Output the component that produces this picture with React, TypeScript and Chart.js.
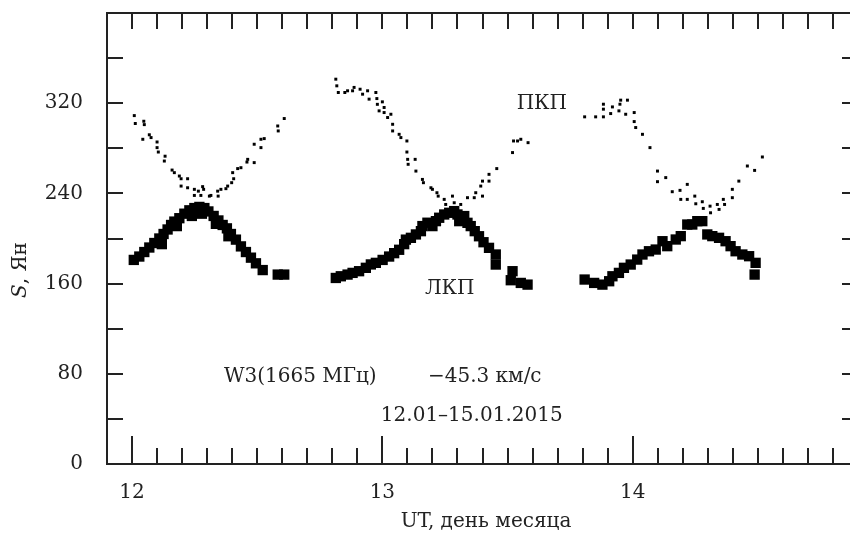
import React, { useEffect, useRef } from 'react';
import { Chart, registerables } from 'chart.js';

Chart.register(...registerables);

// ЛКП (left circular polarisation) – day of month (UT) and flux, Jy
const lcpDay = [
  12.007, 12.029, 12.049, 12.069, 12.089, 12.109, 12.119, 12.126, 12.142, 12.156, 12.169, 12.179, 12.189,
  12.209, 12.229, 12.239, 12.249, 12.269, 12.279, 12.289, 12.305, 12.326, 12.335, 12.345, 12.362, 12.379,
  12.385, 12.395, 12.415, 12.435, 12.455, 12.475, 12.495, 12.522, 12.582, 12.608,
  12.814, 12.834, 12.861, 12.881, 12.907, 12.934, 12.954, 12.974, 13.001, 13.027, 13.047, 13.067, 13.087,
  13.094, 13.114, 13.134, 13.154, 13.16, 13.18, 13.2, 13.214, 13.227, 13.247, 13.267, 13.287, 13.3, 13.307,
  13.327, 13.34, 13.353, 13.369, 13.386, 13.404, 13.426, 13.453, 13.453, 13.52, 13.513, 13.553, 13.58,
  13.808, 13.846, 13.879, 13.906, 13.919, 13.945, 13.965, 13.992, 14.018, 14.039, 14.065, 14.092, 14.119,
  14.138, 14.172, 14.192, 14.218, 14.238, 14.258, 14.278, 14.298, 14.318, 14.345, 14.371, 14.391, 14.411,
  14.438, 14.465, 14.491, 14.487,
];
const lcpFlux = [
  181, 184, 188, 192, 196, 200, 195, 204, 208, 212, 215, 211, 218,
  222, 225, 220, 227, 228, 222, 227, 224, 220, 213, 216, 212, 209,
  202, 204, 199, 193, 188, 183, 178, 172, 168, 168,
  165, 166.5, 168, 169.5, 171, 174, 177, 178.4, 181, 184, 187, 190, 195,
  199, 200.6, 203.6, 206.5, 211, 214, 211, 215.4, 218.4, 221.3, 222.8, 224.3, 221.3, 215.4,
  219.9, 213.9, 211, 206.5, 202, 196.7, 191.7, 185.8, 176.9, 171, 163, 160.6, 159.1,
  163.6, 160.6, 159.1, 162.1, 166.5, 169.5, 174, 176.9, 181.3, 185.8, 188.7, 190.2, 197.6,
  193.2, 199.1, 202.1, 212.4, 212.4, 215.4, 215.4, 203.6, 202.1, 200.6, 197.6, 193.2, 188.7,
  185.8, 184.3, 178.4, 168,
];

// ПКП (right circular polarisation) – day of month (UT) and flux, Jy
const rcpDay = [
  12.009, 12.013, 12.047, 12.049, 12.069, 12.076, 12.043, 12.1, 12.1, 12.105, 12.132, 12.129, 12.16, 12.169,
  12.189, 12.196, 12.196, 12.222, 12.222, 12.249, 12.249, 12.265, 12.275, 12.282, 12.286, 12.309, 12.315,
  12.342, 12.344, 12.355, 12.375, 12.382, 12.398, 12.406, 12.402, 12.422, 12.435, 12.462, 12.459, 12.488,
  12.488, 12.515, 12.515, 12.528, 12.582, 12.584, 12.608,
  12.814, 12.818, 12.824, 12.85, 12.861, 12.881, 12.887, 12.911, 12.921, 12.941, 12.947, 12.974, 12.978,
  12.98, 12.987, 13.0, 13.007, 13.007, 13.021, 13.034, 13.041, 13.041, 13.067, 13.074, 13.098, 13.098,
  13.101, 13.103, 13.131, 13.134, 13.16, 13.164, 13.194, 13.2, 13.218, 13.223, 13.247, 13.253, 13.28,
  13.287, 13.313, 13.34, 13.367, 13.373, 13.393, 13.4, 13.4, 13.426, 13.426, 13.457, 13.52, 13.524, 13.54,
  13.553, 13.582,
  13.808, 13.852, 13.883, 13.883, 13.883, 13.912, 13.919, 13.945, 13.949, 13.952, 13.972, 13.979, 14.006,
  14.006, 14.012, 14.039, 14.069, 14.099, 14.099, 14.132, 14.158, 14.189, 14.192, 14.218, 14.218, 14.248,
  14.252, 14.278, 14.282, 14.309, 14.311, 14.338, 14.345, 14.362, 14.367, 14.398, 14.398, 14.424, 14.458,
  14.487, 14.518,
];
const rcpFlux = [
  309, 302, 304, 301, 292, 289.5, 288, 285.6, 280.6, 276.7, 273, 268.7, 260.7, 258.4,
  255.4, 253, 246.5, 253, 245, 243.6, 238.2, 242, 238.2, 246, 243.6, 237.6, 238.2,
  242, 237.6, 243.6, 244.2, 246.5, 249.5, 253, 258.4, 262, 262.8, 270.2, 267.8, 267.3,
  283.6, 288, 280.6, 288.6, 299.8, 295.4, 306.4,
  341.3, 335.4, 329.5, 329.5, 331, 331, 334, 332.4, 328, 331, 323.6, 329.5, 324.1,
  319, 313.2, 321.2, 316.2, 311.7, 307.3, 310.2, 301.3, 295.4, 292.4, 289.5, 286.5, 276.7,
  270.2, 265.8, 270.2, 259.8, 252.4, 249.5, 245, 243.6, 240.6, 237.6, 234.7, 230.2, 237.6,
  231.7, 230.2, 236.2, 236.2, 240.6, 246.5, 237.6, 250.9, 250.9, 256.9, 262, 276.2, 286.5, 286.5,
  288, 285,
  307.9, 307.9, 307.9, 314.7, 319.1, 310.8, 316.7, 313.2, 319.1, 322.7, 310.2, 322.7, 311.7,
  303.7, 298.4, 292.4, 280.6, 259.8, 250.4, 254, 241.5, 242.7, 234.7, 248, 234.7, 237.6,
  230.8, 232.6, 226.7, 228.7, 222.8, 230.2, 225.8, 234.7, 230.2, 236.2, 243.6, 250.9, 264.3,
  260.4, 272.3,
];

const xLabelTicks = [12, 13, 14];
const yLabelTicks = [0, 80, 160, 240, 320];

// annotation texts with their anchor (day, Jy)
const noteTexts = ['ПКП', 'ЛКП', 'W3(1665 МГц)', '−45.3 км/с', '12.01–15.01.2015'];
const noteDay = [13.637, 13.269, 12.367, 13.182, 12.994];
const noteFlux = [319.2, 155.5, 77.3, 77.3, 42.6];
const noteAlign = ['center', 'center', 'left', 'left', 'left'];

const FONT = '"DejaVu Serif", serif';
const FS = 20;
const INK = '#222';

const framePlugin = {
  id: 'frame',
  afterDraw(chart: any) {
    const { ctx, chartArea, scales } = chart;
    const { left, right, top, bottom } = chartArea;
    const xs = scales.x;
    const ys = scales.y;
    ctx.save();
    ctx.strokeStyle = INK;
    ctx.lineWidth = 2;
    ctx.strokeRect(left, top, right - left, bottom - top);
    ctx.beginPath();
    for (let i = 120; i <= 148; i++) {
      const px = Math.round(xs.getPixelForValue(i / 10));
      const major = i % 10 === 0;
      ctx.moveTo(px, bottom);
      ctx.lineTo(px, bottom - (major ? 28 : 16));
      ctx.moveTo(px, top);
      ctx.lineTo(px, top + 16);
    }
    for (let v = 40; v < 400; v += 40) {
      const py = Math.round(ys.getPixelForValue(v));
      ctx.moveTo(left, py);
      ctx.lineTo(left + 16, py);
      ctx.moveTo(right, py);
      ctx.lineTo(right - 16, py);
    }
    ctx.stroke();

    ctx.fillStyle = INK;
    ctx.textBaseline = 'middle';
    ctx.font = `${FS}px ${FONT}`;
    noteTexts.forEach((t, i) => {
      ctx.textAlign = noteAlign[i];
      ctx.fillText(t, xs.getPixelForValue(noteDay[i]), ys.getPixelForValue(noteFlux[i]));
    });

    // x-axis title
    ctx.textAlign = 'center';
    ctx.textBaseline = 'alphabetic';
    ctx.fillText('UT, день месяца', 486, 527);

    // y-axis title, rotated
    ctx.save();
    ctx.translate(26, 270);
    ctx.rotate(-Math.PI / 2);
    ctx.textAlign = 'left';
    ctx.font = `italic ${FS}px ${FONT}`;
    const s = 'S';
    const w1 = ctx.measureText(s).width;
    ctx.font = `${FS}px ${FONT}`;
    const rest = ', Ян';
    const w2 = ctx.measureText(rest).width;
    const x0 = -(w1 + w2) / 2;
    ctx.font = `italic ${FS}px ${FONT}`;
    ctx.fillText(s, x0, 0);
    ctx.font = `${FS}px ${FONT}`;
    ctx.fillText(rest, x0 + w1, 0);
    ctx.restore();

    ctx.restore();
  },
};

const zeroPad = (s: any) => {
  s.paddingTop = 0;
  s.paddingBottom = 0;
  s.paddingLeft = 0;
  s.paddingRight = 0;
};

export default function App() {
  const ref = useRef<HTMLCanvasElement>(null);
  useEffect(() => {
    if (!ref.current) return;
    const chart = new Chart(ref.current, {
      type: 'scatter',
      data: {
        datasets: [
          {
            label: 'ЛКП',
            data: lcpDay.map((d, i) => ({ x: d, y: lcpFlux[i] })),
            pointStyle: 'rect',
            pointRadius: 7.3,
            backgroundColor: '#000',
            borderWidth: 0,
          },
          {
            label: 'ПКП',
            data: rcpDay.map((d, i) => ({ x: d, y: rcpFlux[i] })),
            pointStyle: 'rect',
            pointRadius: 2.1,
            backgroundColor: '#000',
            borderWidth: 0,
          },
        ],
      },
      options: {
        animation: false,
        responsive: false,
        devicePixelRatio: 1,
        layout: { padding: { top: 13, right: 12, left: 0, bottom: 0 } },
        plugins: { legend: { display: false }, tooltip: { enabled: false } },
        scales: {
          x: {
            type: 'linear',
            min: 11.9,
            max: 14.9,
            grid: { display: false, drawTicks: false },
            border: { display: false },
            afterBuildTicks: (s: any) => {
              s.ticks = xLabelTicks.map((v) => ({ value: v }));
            },
            afterFit: (s: any) => {
              s.height = 69;
              zeroPad(s);
            },
            ticks: {
              autoSkip: false,
              maxRotation: 0,
              padding: 17,
              color: INK,
              font: { family: FONT, size: FS },
              callback: (v: any) => String(v),
            },
          },
          y: {
            type: 'linear',
            min: 0,
            max: 400,
            grid: { display: false, drawTicks: false },
            border: { display: false },
            afterBuildTicks: (s: any) => {
              s.ticks = yLabelTicks.map((v) => ({ value: v }));
            },
            afterFit: (s: any) => {
              s.width = 107;
              zeroPad(s);
            },
            ticks: {
              padding: 24,
              color: INK,
              font: { family: FONT, size: FS },
              callback: (v: any) => String(v),
            },
          },
        },
      },
      plugins: [framePlugin],
    });
    return () => chart.destroy();
  }, []);
  return (
    <div
      style={{
        position: 'fixed',
        left: 0,
        top: 0,
        width: 850,
        height: 533,
        overflow: 'hidden',
        background: '#fff',
      }}
    >
      <canvas ref={ref} width={870} height={533} style={{ display: 'block', width: 870, height: 533 }} />
    </div>
  );
}
